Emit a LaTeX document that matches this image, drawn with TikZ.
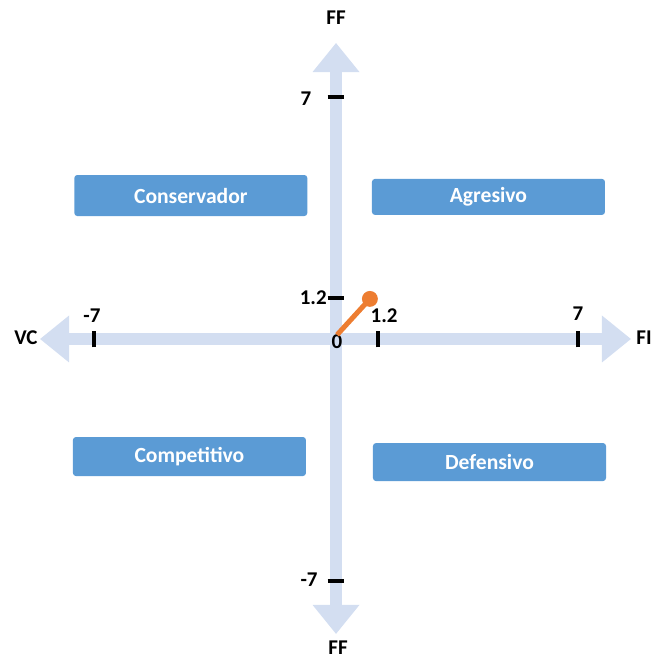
\documentclass[tikz,border=0pt]{standalone}
\usepackage{fontspec}
\setmainfont{Carlito}
\usepackage{xcolor}
\usetikzlibrary{arrows.meta, positioning}
\definecolor{axisblue}{HTML}{D3DEF1}
\definecolor{boxblue}{HTML}{5B9BD5}
\definecolor{dotorange}{HTML}{ED7D31}
\tikzset{
  %% Quadrant box
  qbox/.style={
    rectangle, rounded corners=1.5pt,
    fill=boxblue, draw=none,
    text=white, font=\fontsize{10.8}{13}\selectfont\bfseries,
    minimum width=116.5pt, minimum height=19.5pt,
    inner sep=2pt
  },
  %% Thick axis arrow
  axisarr/.style={
    draw=axisblue, line width=6pt,
    {Triangle[length=14.5pt,width=23.5pt,line width=0pt]}-%
    {Triangle[length=14.5pt,width=23.5pt,line width=0pt]}
  },
  %% Tick mark
  tick/.style={draw=black, line width=2pt},
  %% Labels
  lbl/.style={font=\fontsize{10.5}{12}\selectfont\bfseries, inner sep=1pt},
}

\begin{document}
\begin{tikzpicture}[x=0.6074cm, y=0.6074cm]
  \useasboundingbox (-9.72,-9.257) rectangle (9.14,9.806);

  %% Axes
  \draw[axisarr] (-8.56,0) -- (8.53,0);
  \draw[axisarr] (0,-8.53) -- (0,8.56);

  %% Ticks on the horizontal axis
  \foreach \x in {-7, 1.2, 7}
    \draw[tick] (\x,-0.24) -- (\x,0.24);
  %% Ticks on the vertical axis
  \foreach \y in {-7, 1.2, 7}
    \draw[tick] (-0.24,\y) -- (0.24,\y);

  %% Axis names
  \node[lbl] (fftop) at (0,9.29) {FF};
  \node[lbl] (ffbot) at (0.06,-8.94) {FF};
  \node[lbl] (vc)    at (-8.97,0.03) {VC};
  \node[lbl] (fi)    at (8.91,0.03) {FI};

  %% Tick labels
  \node[lbl] (ytop)  at (-0.87,6.94)  {7};
  \node[lbl] (ybot)  at (-0.78,-6.97) {-7};
  \node[lbl] (ymid)  at (-0.66,1.19)  {1.2};
  \node[lbl] (xleft) at (-7.06,0.67)  {-7};
  \node[lbl] (xrght) at (7.0,0.72)    {7};
  \node[lbl] (xmid)  at (1.39,0.67)   {1.2};
  \node[lbl] (zero)  at (0.03,-0.09)  {0};

  %% Quadrants
  \node[qbox, minimum height=20.5pt] (cons) at (-4.20,4.15)  {Conservador};
  \node[qbox, minimum height=18pt]   (agre) at (4.41,4.11)   {Agresivo};
  \node[qbox]                        (comp) at (-4.24,-3.40) {Competitivo};
  \node[qbox, minimum height=19pt]   (defe) at (4.44,-3.56)  {Defensivo};

  %% Position vector
  \coordinate (orig) at (0.03,0.12);
  \coordinate (pos)  at (0.98,1.16);
  \draw[dotorange, line width=2.5pt] (orig) -- (pos);
  \fill[dotorange] (pos) circle (0.23);

\end{tikzpicture}
\end{document}
